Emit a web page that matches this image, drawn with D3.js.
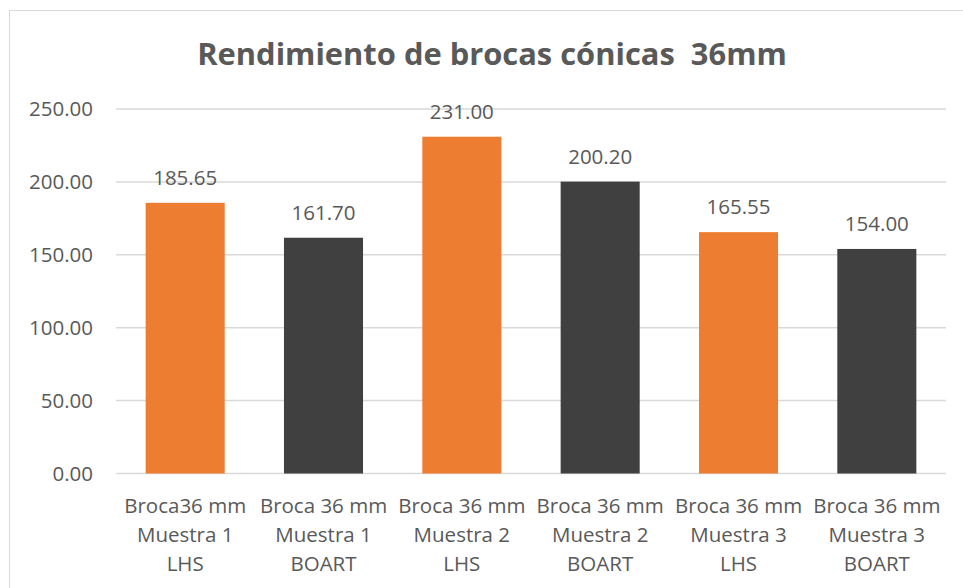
<!DOCTYPE html>
<html>
<head>
<meta charset="utf-8">
<script src="https://cdn.jsdelivr.net/npm/d3@7/dist/d3.min.js"></script>
<style>
  html, body { margin: 0; padding: 0; background: #fff; }
  svg { display: block; }
  text { font-family: "Open Sans", "Noto Sans", sans-serif; fill: #595959; }
</style>
</head>
<body>
<svg id="chart" width="963" height="588"></svg>
<script>
const title = "Rendimiento de brocas cónicas  36mm";
const categories = [
  ["Broca36 mm", "Muestra 1", "LHS"],
  ["Broca 36 mm", "Muestra 1", "BOART"],
  ["Broca 36 mm", "Muestra 2", "LHS"],
  ["Broca 36 mm", "Muestra 2", "BOART"],
  ["Broca 36 mm", "Muestra 3", "LHS"],
  ["Broca 36 mm", "Muestra 3", "BOART"]
];
const values = [185.65, 161.70, 231.00, 200.20, 165.55, 154.00];
const brands = ["LHS", "BOART", "LHS", "BOART", "LHS", "BOART"];
const yTicks = [0, 50, 100, 150, 200, 250];

const svg = d3.select("#chart");
const W = 963, H = 588;
const plot = { left: 116, right: 946, top: 109, bottom: 473.5 };

// chart border
svg.append("rect")
  .attr("x", 9.5).attr("y", 10.5)
  .attr("width", 980).attr("height", 600)
  .attr("fill", "#fff").attr("stroke", "#d9d9d9").attr("stroke-width", 1);

const idx = categories.map((d, i) => i);
const x = d3.scaleBand().domain(idx).range([plot.left, plot.right])
  .paddingInner(0.75 / 1.75).paddingOuter(0.75 / 3.5);
const y = d3.scaleLinear().domain([0, 250]).range([plot.bottom, plot.top]);
const color = d3.scaleOrdinal().domain(["LHS", "BOART"]).range(["#ED7D31", "#404040"]);

// gridlines
svg.append("g").selectAll("line").data(yTicks).join("line")
  .attr("x1", plot.left).attr("x2", plot.right)
  .attr("y1", d => y(d)).attr("y2", d => y(d))
  .attr("stroke", "#d9d9d9").attr("stroke-width", 1.5);

// y axis labels
const yAxis = d3.axisLeft(y).tickValues(yTicks).tickFormat(d3.format(".2f")).tickSize(0).tickPadding(23);
const ga = svg.append("g").attr("transform", `translate(${plot.left},0)`).call(yAxis);
ga.select(".domain").remove();
ga.selectAll("text").style("font-size", "20.5px").style("font-family", "'Open Sans', sans-serif").attr("fill", "#595959");

// bars
svg.append("g").selectAll("rect").data(idx).join("rect")
  .attr("x", i => x(i)).attr("width", x.bandwidth())
  .attr("y", i => y(values[i])).attr("height", i => y(0) - y(values[i]))
  .attr("fill", i => color(brands[i]));

// value labels
svg.append("g").selectAll("text").data(idx).join("text")
  .attr("x", i => x(i) + x.bandwidth() / 2)
  .attr("y", i => y(values[i]) - 18)
  .attr("text-anchor", "middle")
  .style("font-size", "20.5px")
  .text(i => values[i].toFixed(2));

// category labels
const cg = svg.append("g").selectAll("text").data(idx).join("text")
  .attr("text-anchor", "middle")
  .style("font-size", "20.5px");
cg.each(function(i) {
  const t = d3.select(this);
  categories[i].forEach((line, k) => {
    t.append("tspan")
      .attr("x", x(i) + x.bandwidth() / 2)
      .attr("y", 513 + k * 29)
      .text(line);
  });
});

// title, fitted to the reference width
const tt = svg.append("text")
  .attr("x", 492).attr("y", 65)
  .attr("text-anchor", "middle")
  .style("font-weight", "bold")
  .style("font-size", "28px")
  .style("white-space", "pre")
  .text(title);
const tw = tt.node().getComputedTextLength();
tt.style("font-size", (28 * 590 / tw).toFixed(2) + "px");
</script>
</body>
</html>
